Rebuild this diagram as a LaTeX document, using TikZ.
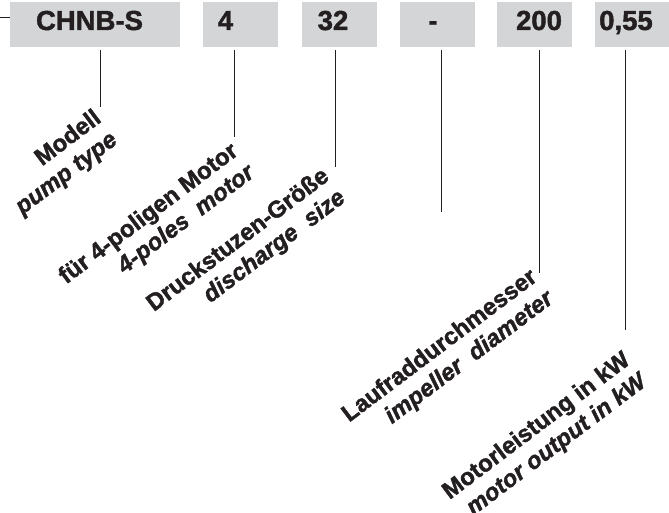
\documentclass[tikz,border=0pt]{standalone}
\usepackage{fontspec}
\setmainfont{Liberation Sans}
\newfontfamily\heavy{Liberation Sans}[UprightFont={* Bold}, ItalicFont={* Bold Italic}, FakeBold=1.6]

\definecolor{boxgray}{HTML}{D4D5D7}
\definecolor{ink}{HTML}{231F20}

\tikzset{
  codebox/.style={fill=boxgray, minimum width=75pt, minimum height=45pt, inner sep=0pt},
  codetext/.style={font=\heavy\fontsize{27.5}{32}\selectfont, text=ink, inner sep=0pt, anchor=base},
  lbl/.style={font=\heavy\fontsize{23.8}{27}\selectfont, text=ink, rotate=37,
    align=right, anchor=north east, inner sep=0pt},
  lead/.style={draw=ink, line width=0.9pt},
}

\begin{document}
\begin{tikzpicture}[x=1pt,y=-1pt]
        \useasboundingbox (0,0) rectangle (669,513);

        % code boxes
        \node[codebox, minimum width=170pt] (b1) at (95,24.5) {};
        \foreach \n/\x in {2/240.5,3/339.5,4/437,5/534,6/632.5}
        {\node[codebox] (b\n) at (\x,24.5) {};}

        \node[codetext] (t1) at (89.5,30) {CHNB-S};
        \node[codetext] (t2) at (225.5,30) {4};
        \node[codetext] (t3) at (333,30) {32};
        \node[codetext] (t4) at (433,30) {-};
        \node[codetext] (t5) at (539,30) {200};
        \node[codetext] (t6) at (626,30) {0,55};

        % ends of the leader lines
        \coordinate (lft) at (0,17);
        \coordinate (e1) at (100,107);
        \coordinate (e2) at (234,137);
        \coordinate (e3) at (335,167);
        \coordinate (e4) at (441,212);
        \coordinate (e5) at (539,273);
        \coordinate (e6) at (625,330);

        \draw[lead] (lft) -- (lft -| b1.west);
        \foreach \n in {1,...,6}
        {\draw[lead] ([yshift=-3pt]e\n |- b\n.south) -- (e\n);}

        % labels
        \node[lbl] (l1) at (92,107) {Modell\\\itshape pump type};
        \node[lbl] (l2) at (229,140) {für 4-poligen Motor\\\itshape 4-poles~ motor};
        \node[lbl] (l3) at (320,165) {Druckstuzen-Größe\\\itshape discharge~ size};
        \node[lbl] (l5) at (528,266) {Laufraddurchmesser\\\itshape impeller~ diameter};
        \node[lbl] (l6) at (621,349) {Motorleistung in kW\\\itshape motor output in kW};
\end{tikzpicture}
\end{document}
